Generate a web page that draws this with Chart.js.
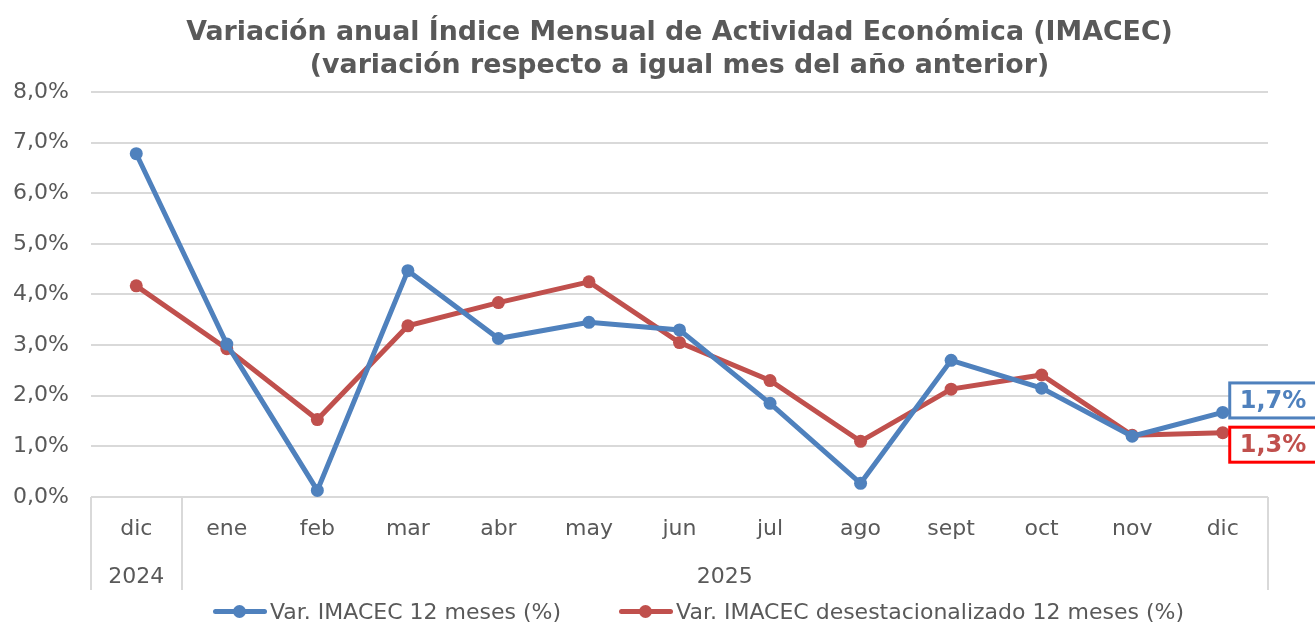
<!DOCTYPE html>
<html>
<head>
<meta charset="utf-8">
<script src="https://cdn.jsdelivr.net/npm/chart.js@4"></script>
<style>
  body { margin: 0; background: #fff; }
  #wrap { position: relative; width: 1315px; height: 623px; }
  #legend { position: absolute; left: 41px; top: 599px; width: 1315px; height: 24px;
            font-family: "DejaVu Sans", sans-serif; font-size: 22px; color: #595959;
            display: flex; justify-content: center; gap: 58px; white-space: nowrap; }
  .item { display: flex; align-items: center; }
  .mark { position: relative; width: 54px; height: 14px; margin-right: 3px; }
  .mark .ln { position: absolute; left: 0; right: 0; top: 5px; height: 5px; border-radius: 3px; }
  .mark .dot { position: absolute; left: 20px; top: 1px; width: 13px; height: 13px; border-radius: 50%; }
</style>
</head>
<body>
<div id="wrap">
  <canvas id="chart"></canvas>
  <div id="legend"></div>
</div>
<script>
// Data
const months = ['dic', 'ene', 'feb', 'mar', 'abr', 'may', 'jun', 'jul', 'ago', 'sept', 'oct', 'nov', 'dic'];
const years = ['2024', '2025'];
const yearSpans = [1, 12];
const imacec = [6.78, 3.02, 0.13, 4.47, 3.13, 3.45, 3.30, 1.85, 0.27, 2.70, 2.15, 1.20, 1.67];
const imacecSa = [4.17, 2.93, 1.53, 3.38, 3.84, 4.25, 3.05, 2.30, 1.10, 2.13, 2.41, 1.22, 1.27];
const seriesNames = ['Var. IMACEC 12 meses (%)', 'Var. IMACEC desestacionalizado 12 meses (%)'];
const endLabels = ['1,7%', '1,3%'];

const BLUE = '#4F81BD';
const RED = '#C0504D';
const GREY = '#595959';
const FONT = '"DejaVu Sans", sans-serif';

const fmt = v => v.toFixed(1).replace('.', ',') + '%';

// year groups and separators below the x axis
const yearGroups = {
    id: 'yearGroups',
    afterDraw(chart) {
        const ctx = chart.ctx;
        const x = chart.scales.x;
        const area = chart.chartArea;
        const step = x.getPixelForValue(1) - x.getPixelForValue(0);
        const bottom = 590;
        let edges = [area.left];
        let idx = 0;
        yearSpans.forEach(n => {
            idx += n;
            edges.push(x.getPixelForValue(idx - 1) + step / 2);
        });
        ctx.save();
        ctx.strokeStyle = '#D9D9D9';
        ctx.lineWidth = 2;
        edges.forEach(e => {
            ctx.beginPath();
            ctx.moveTo(Math.round(e), area.bottom);
            ctx.lineTo(Math.round(e), bottom);
            ctx.stroke();
        });
        ctx.fillStyle = GREY;
        ctx.font = '22px ' + FONT;
        ctx.textAlign = 'center';
        ctx.textBaseline = 'middle';
        years.forEach((y, i) => {
            ctx.fillText(y, (edges[i] + edges[i + 1]) / 2, 577);
        });
        ctx.restore();
    }
};

// boxed value labels at the last point of each series
const lastLabels = {
    id: 'lastLabels',
    afterDatasetsDraw(chart) {
        const ctx = chart.ctx;
        const borders = [BLUE, '#FF0000'];
        const offsets = [-12, 12];
        ctx.save();
        chart.data.datasets.forEach((ds, i) => {
            const meta = chart.getDatasetMeta(i);
            const pt = meta.data[meta.data.length - 1];
            const left = pt.x + 7;
            const cy = pt.y + offsets[i];
            const h = 35;
            ctx.fillStyle = '#fff';
            ctx.fillRect(left, cy - h / 2, 100, h);
            ctx.strokeStyle = borders[i];
            ctx.lineWidth = 3;
            ctx.strokeRect(left, cy - h / 2, 100, h);
            ctx.fillStyle = ds.borderColor;
            ctx.font = 'bold 24px ' + FONT;
            ctx.textBaseline = 'middle';
            ctx.textAlign = 'left';
            ctx.fillText(endLabels[i], left + 10, cy + 1);
        });
        ctx.restore();
    }
};

const chart = new Chart(document.getElementById('chart'), {
    type: 'line',
    data: {
        labels: months,
        datasets: [
            { label: seriesNames[0], data: imacec, borderColor: BLUE, backgroundColor: BLUE },
            { label: seriesNames[1], data: imacecSa, borderColor: RED, backgroundColor: RED }
        ]
    },
    options: {
        responsive: true,
        maintainAspectRatio: false,
        animation: false,
        layout: { padding: { left: 0, right: 47, top: 0, bottom: 33 } },
        elements: {
            line: { borderWidth: 5, tension: 0 },
            point: { radius: 6.5, hoverRadius: 6.5, borderWidth: 0 }
        },
        plugins: {
            legend: { display: false },
            tooltip: { enabled: false },
            title: {
                display: true,
                fullSize: false,
                text: ['Variación anual Índice Mensual de Actividad Económica (IMACEC)',
                       '(variación respecto a igual mes del año anterior)'],
                color: GREY,
                font: { family: FONT, size: 26.8, weight: 'bold', lineHeight: 1.23 },
                padding: { top: 17, bottom: 9 }
            }
        },
        scales: {
            x: {
                offset: true,
                grid: { display: false },
                border: { display: false },
                ticks: { color: GREY, font: { family: FONT, size: 22 }, padding: 11, maxRotation: 0, autoSkip: false },
                afterFit(scale) { scale.height = 623 - 33 - 497; }
            },
            y: {
                min: 0,
                max: 8,
                grid: { color: '#D9D9D9', lineWidth: 2, drawTicks: false },
                border: { display: false },
                ticks: { stepSize: 1, color: GREY, font: { family: FONT, size: 22 }, padding: 22, callback: v => fmt(v) },
                afterFit(scale) { scale.width = 91; }
            }
        }
    },
    plugins: [yearGroups, lastLabels]
});

// legend as html
const legend = document.getElementById('legend');
chart.data.datasets.forEach(ds => {
    const item = document.createElement('div');
    item.className = 'item';
    item.innerHTML = '<span class="mark"><span class="ln" style="background:' + ds.borderColor +
        '"></span><span class="dot" style="background:' + ds.borderColor + '"></span></span><span>' + ds.label + '</span>';
    legend.appendChild(item);
});
</script>
</body>
</html>
